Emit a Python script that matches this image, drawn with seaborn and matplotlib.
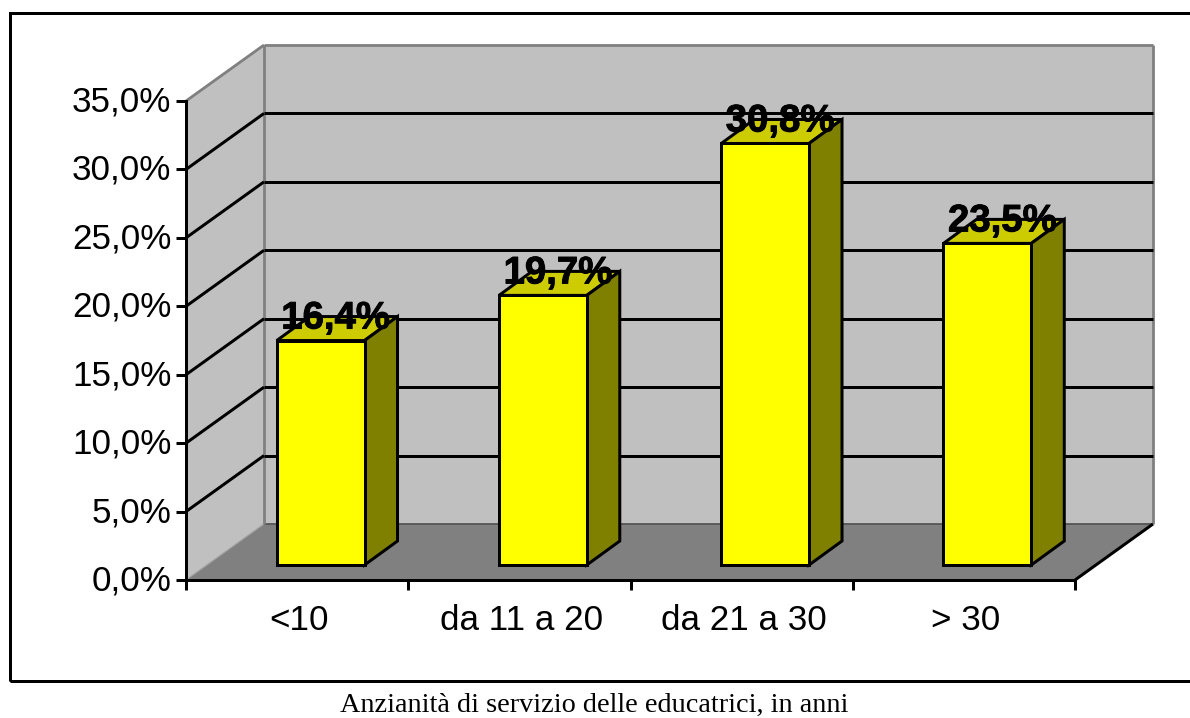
import matplotlib
matplotlib.use("Agg")
import matplotlib.pyplot as plt
import matplotlib.patheffects as pe
import numpy as np
import pandas as pd
import seaborn as sns
from matplotlib.patches import Polygon, Rectangle
from matplotlib.lines import Line2D
from matplotlib.transforms import IdentityTransform, Affine2D, ScaledTranslation
from matplotlib.ticker import FuncFormatter

categories = ["<10", "da 11 a 20", "da 21 a 30", "> 30"]
values = [16.4, 19.7, 30.8, 23.5]
value_labels = ["16,4%", "19,7%", "30,8%", "23,5%"]
y_ticks = [0, 5, 10, 15, 20, 25, 30, 35]
caption = "Anzianità di servizio delle educatrici, in anni"

W, H = 1190, 718
DPI = 100
WALL = "#C0C0C0"
FLOOR = "#808080"
EDGE_GRAY = "#808080"
BAR_FRONT = "#FFFF00"
BAR_TOP = "#CCCC00"
BAR_SIDE = "#808000"
LW = 3 * 72 / DPI
BAR_WIDTH = 0.395

sns.set_style("white")
plt.rcParams["font.family"] = ["Liberation Sans", "DejaVu Sans"]
plt.rcParams["text.color"] = "black"
plt.rcParams["xtick.labelcolor"] = "black"
plt.rcParams["ytick.labelcolor"] = "black"

fig = plt.figure(figsize=(W / DPI, H / DPI), dpi=DPI, facecolor="white")


def axes_at(left, baseline, width=889, height=479):
    return fig.add_axes([left / W, (H - baseline) / H, width / W, height / H])


# Bars live on a plane partway into the box; the axis plane sits in front of it.
ax = axes_at(209.5, 565)
df = pd.DataFrame({"category": categories, "value": values})
sns.barplot(data=df, x="category", y="value", ax=ax, color=BAR_FRONT, saturation=1,
            width=BAR_WIDTH, edgecolor="black", linewidth=LW, zorder=6)
ax.set_xlim(-0.5, 3.5)
ax.set_ylim(0, 35)
ax.set_axis_off()
for bar in ax.patches:
    bar.set_clip_on(False)

FRONT = np.array([-23.5, -15.0])
BACK = np.array([54.5, 41.0])
BAR_DEPTH = np.array([33.0, 24.0])


def px(x, v, shift=(0.0, 0.0)):
    return ax.transData.transform((x, v)) + np.asarray(shift)


def poly(points, face, edge="none", lw=0.0, z=1):
    ax.add_patch(Polygon(np.array(points), closed=True, facecolor=face, edgecolor=edge,
                         linewidth=lw, transform=IdentityTransform(), zorder=z,
                         clip_on=False, joinstyle="miter"))


def seg(a, b, color="black", lw=LW, z=2):
    ax.add_line(Line2D([a[0], b[0]], [a[1], b[1]], color=color, linewidth=lw,
                       transform=IdentityTransform(), zorder=z, clip_on=False,
                       solid_capstyle="butt"))


x0, x1 = -0.5, 3.5
top = y_ticks[-1]

# Back wall, side wall and floor of the box
poly([px(x0, 0, BACK), px(x1, 0, BACK), px(x1, top, BACK), px(x0, top, BACK)], WALL)
poly([px(x0, 0, FRONT), px(x0, 0, BACK), px(x0, top, BACK), px(x0, top, FRONT)], WALL)
poly([px(x0, 0, FRONT), px(x1, 0, FRONT), px(x1, 0, BACK), px(x0, 0, BACK)], FLOOR, z=1.5)

gray_lw = 2.8 * 72 / DPI
seg(px(x0, 0, BACK), px(x0, top, BACK), EDGE_GRAY, gray_lw, 1.8)
seg(px(x1, 0, BACK), px(x1, top, BACK), EDGE_GRAY, gray_lw, 1.8)
seg(px(x0, top, FRONT), px(x0, top, BACK), EDGE_GRAY, gray_lw, 1.8)
seg(px(x0, top, BACK), px(x1, top, BACK), EDGE_GRAY, gray_lw, 1.8)
seg(px(x0, 0, BACK), px(x1, 0, BACK), "#555555", 1.8 * 72 / DPI, 1.7)
seg(px(x0, 0, FRONT), px(x0, 0, BACK), "#A0A0A0", 1.2 * 72 / DPI, 1.7)
seg(px(x1, 0, FRONT), px(x1, 0, BACK), z=3)

for t in y_ticks[1:-1]:
    seg(px(x0, t, FRONT), px(x0, t, BACK))
    seg(px(x0, t, BACK), px(x1, t, BACK))

# Top and side faces of each bar, then its value label
half = BAR_WIDTH / 2
for i, (v, label) in enumerate(zip(values, value_labels)):
    l, r = i - half, i + half
    poly([px(l, v), px(r, v), px(r, v, BAR_DEPTH), px(l, v, BAR_DEPTH)],
         BAR_TOP, "black", LW, 5)
    poly([px(r, 0), px(r, 0, BAR_DEPTH), px(r, v, BAR_DEPTH), px(r, v)],
         BAR_SIDE, "black", LW, 5)
    ax.text(i, v, label, fontsize=27.6, fontweight="bold", color="black",
            ha="center", va="center", zorder=8, clip_on=False,
            transform=ax.transData + Affine2D().translate(15, 22),
            path_effects=[pe.withStroke(linewidth=0.7, foreground="black")])

# Axis plane at the front edge of the box
front = axes_at(209.5 + FRONT[0], 565 - FRONT[1])
front.set_zorder(3)
front.patch.set_visible(False)
front.set_xlim(x0, x1)
front.set_ylim(0, top)
for name in ("top", "right"):
    front.spines[name].set_visible(False)
for name in ("left", "bottom"):
    front.spines[name].set_linewidth(LW)
    front.spines[name].set_color("black")
front.set_yticks(y_ticks)
front.yaxis.set_major_formatter(FuncFormatter(lambda v, _: f"{v:.1f}%".replace(".", ",")))
front.tick_params(axis="y", length=7.5, width=LW, color="black", labelsize=25.2,
                  labelcolor="black", pad=3, left=True)
front.set_xticks(range(len(categories)))
front.set_xticklabels(categories)
front.set_xticks(np.arange(x0, x1 + 0.5), minor=True)
front.tick_params(axis="x", which="major", length=0, labelsize=25.2,
                  labelcolor="black", pad=17)
front.tick_params(axis="x", which="minor", length=7.5, width=LW, color="black", bottom=True)
for lab in front.get_yticklabels():
    lab.set_verticalalignment("center")
    lab.set_transform(lab.get_transform() + ScaledTranslation(0, -1 / DPI, fig.dpi_scale_trans))
for lab in front.get_xticklabels():
    lab.set_transform(lab.get_transform() + ScaledTranslation(2 / DPI, 0, fig.dpi_scale_trans))

# Outer chart frame, open past the right edge, and the caption beneath it
fig.add_artist(Rectangle((10 / W, (H - 681) / H), 1200 / W, 668 / H, fill=False,
                         edgecolor="black", linewidth=LW, transform=fig.transFigure))
fig.text(594 / W, (H - 705) / H, caption, family="Liberation Serif", fontsize=20.35,
         ha="center", va="center", color="black")

fig.savefig("out.png", dpi=DPI, facecolor="white")
